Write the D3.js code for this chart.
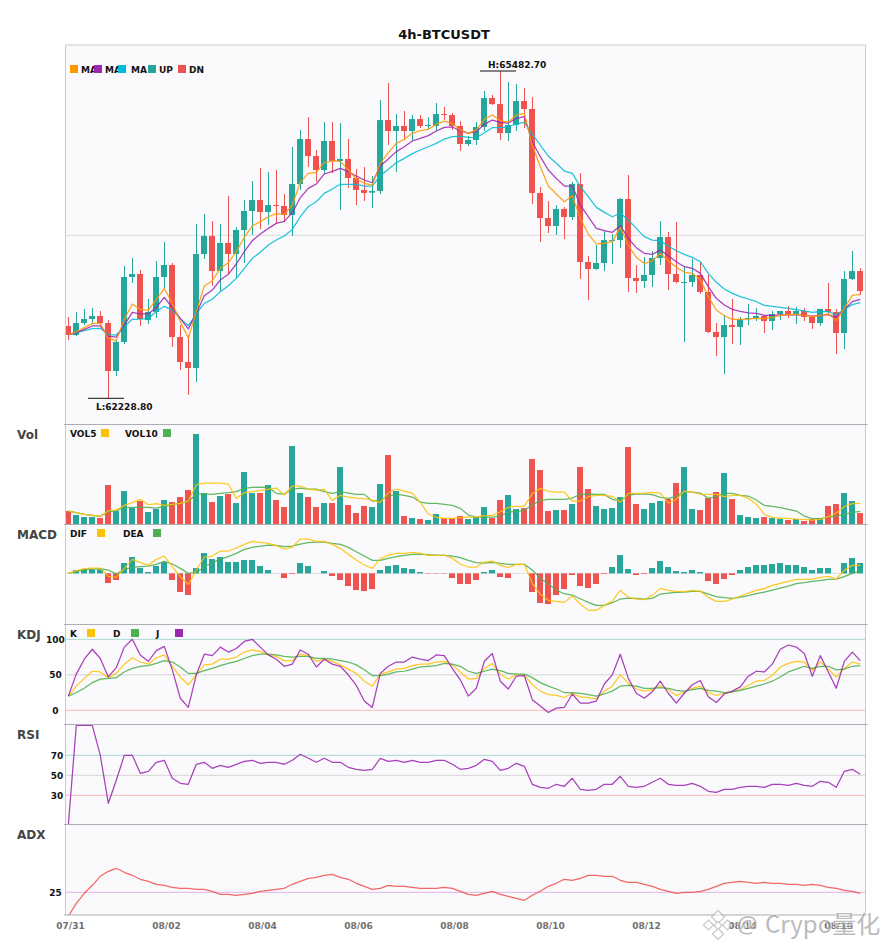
<!DOCTYPE html>
<html>
<head>
<meta charset="utf-8">
<script src="https://cdn.jsdelivr.net/npm/d3@7"></script>
<style>
  html, body { margin: 0; padding: 0; background: #fff; }
  svg { display: block; font-family: "DejaVu Sans", sans-serif; }
  text { font-weight: bold; }
</style>
</head>
<body>
<svg id="chart" width="885" height="950"></svg>
<script>
const dateLabels = ["07/31","08/02","08/04","08/06","08/08","08/10","08/12","08/14","08/16"];
const dateIndex = [0,12,24,36,48,60,72,84,96];

const opens = [62948,62858,62977,63017,63047,62977,62500,62789,63435,63465,63007,63087,63435,63554,62838,62590,62530,63663,63842,63494,
  63773,63663,63902,64091,64200,64081,64150,64140,64051,64359,64806,64637,64498,64787,64588,64608,64419,64300,64273,64290,
  64995,64886,64936,64886,65005,64936,64936,65055,65045,64936,64757,64797,64926,65214,65154,64866,64946,65184,65105,64270,
  64021,63942,64111,64031,64359,63584,63514,63574,63796,63802,64210,63425,63395,63455,63623,63832,63465,63375,63385,63455,
  63286,62888,62838,62957,62938,63017,63027,63047,62997,63067,63097,63067,63097,63037,62977,63117,63087,62878,63415,63494];
const closes = [62858,62977,63017,63047,62977,62500,62789,63435,63465,63017,63087,63435,63554,62838,62590,62530,63663,63842,63494,63773,
  63663,63902,64091,64200,64081,64150,64144,64051,64359,64806,64637,64498,64787,64588,64608,64419,64300,64270,64290,64995,
  64886,64936,64886,65005,64936,64946,65055,65045,64936,64757,64797,64926,65214,65154,64866,64946,65184,65105,64270,64021,
  63942,64111,64031,64359,63584,63514,63574,63802,63802,64210,63425,63395,63455,63623,63832,63465,63385,63385,63455,63286,
  62888,62838,62957,62938,63017,63027,63047,62997,63067,63097,63067,63097,63037,62977,63117,63087,62878,63415,63494,63295];
const highs = [63037,63087,63117,63126,63097,63007,62808,63544,63623,63504,63216,63594,63783,63574,62957,62858,63962,64061,63991,63962,
  64240,63932,64200,64389,64518,64478,64498,64260,64727,64896,65025,64697,64975,64975,64965,64806,64508,64528,64439,65194,
  65363,65055,65085,65045,65045,65025,65164,65125,65065,64985,64836,64975,65284,65244,65482.7,65373,65353,65313,65224,64329,
  64190,64150,64130,64379,64468,63643,63753,63892,63862,64220,64449,63554,63633,63693,63991,63882,63981,63534,63614,63584,
  63455,62977,63057,63216,63037,63166,63126,63057,63097,63097,63146,63136,63126,63057,63117,63375,63117,63494,63693,63524];
const lows = [62808,62848,62957,62977,62957,62228.8,62450,62769,63375,62948,62967,63027,63322,62739,62510,62262,62391,63614,63345,63286,
  63465,63421,63574,63852,63912,63952,63968,63981,63842,64300,64528,64379,64459,64468,64101,64319,64150,64190,64120,64260,
  64747,64478,64797,64787,64916,64896,64886,64995,64896,64687,64737,64747,64886,65144,64797,64787,64886,64916,64160,63783,
  63872,63852,63812,64001,63415,63206,63504,63494,63564,63723,63286,63276,63325,63335,63554,63305,63372,62789,63335,63266,
  62878,62649,62470,62769,62759,62957,62997,62878,62908,63007,63027,62967,62997,62918,62948,63057,62669,62719,63405,63256];
const ma5 = [62858,62891,62931,62974,62974,62825,62802,63014,63166,63113,63103,63213,63319,63173,62991,62825,63090,63345,63398,63521,
  63577,63686,63829,63942,63985,64034,64064,64058,64150,64376,64465,64475,64571,64588,64584,64498,64409,64366,64349,64565,
  64671,64763,64803,64863,64889,64903,64952,64985,64962,64896,64863,64896,65002,65045,64989,64975,65045,65062,64747,64531,
  64339,64260,64183,64243,64018,63862,63763,63769,63786,63928,63753,63630,63570,63594,63670,63597,63531,63481,63471,63411,
  63239,63107,63050,63014,63014,63017,63024,63021,63034,63054,63060,63064,63054,63040,63054,63067,63001,63123,63252,63262];
const ma10 = [62858,62881,62914,62948,62948,62848,62838,62957,63083,63067,63067,63133,63233,63130,63024,62918,63073,63249,63305,63405,
  63461,63564,63686,63796,63862,63918,63968,63988,64074,64223,64316,64359,64459,64485,64515,64482,64439,64399,64372,64538,
  64608,64681,64730,64787,64813,64840,64886,64922,64926,64889,64866,64879,64952,64995,64972,64965,65012,65028,64780,64631,
  64498,64415,64339,64339,64150,64034,63918,63895,63879,63945,63819,63726,63670,63660,63703,63647,63587,63537,63521,63471,
  63339,63223,63156,63113,63093,63077,63073,63054,63054,63057,63057,63057,63057,63044,63054,63060,63034,63113,63189,63213];
const ma20 = [62858,62881,62901,62921,62924,62865,62858,62941,63014,63017,63024,63090,63143,63107,63021,62951,63067,63173,63213,63289,
  63348,63421,63521,63620,63680,63753,63802,63842,63908,64034,64134,64183,64266,64309,64356,64356,64356,64339,64339,64442,
  64505,64571,64614,64661,64697,64730,64763,64806,64830,64836,64823,64820,64869,64919,64919,64926,64956,64972,64856,64747,
  64637,64565,64488,64465,64333,64233,64127,64077,64034,64071,64001,63918,63836,63802,63796,63743,63696,63660,63630,63587,
  63471,63382,63315,63272,63239,63216,63189,63153,63143,63133,63123,63110,63097,63083,63090,63090,63057,63113,63160,63179];
const midPrice = 63849;

const volume = [41,29,23,23,20,119,41,101,50,71,38,47,74,68,83,104,272,95,68,86,
  92,65,158,95,95,119,74,53,236,95,83,53,65,65,173,59,35,56,53,122,
  209,101,26,20,17,14,32,20,20,26,17,23,53,20,74,89,47,50,197,164,
  41,44,44,62,173,107,56,47,50,83,233,62,47,65,71,77,125,173,47,44,
  80,98,155,77,29,23,20,23,20,17,14,17,11,17,20,56,62,95,71,35];
const vol5 = [41,36,31,28,25,42,44,58,66,76,60,63,58,61,64,71,120,125,125,125,
  122,79,96,99,102,107,110,89,116,116,107,104,106,73,88,83,80,78,74,66,
  96,107,101,95,67,32,22,19,19,21,23,23,27,28,39,52,55,55,93,109,
  100,98,98,71,71,84,88,88,85,67,94,94,95,97,95,65,76,101,98,92,
  91,91,84,88,88,79,62,31,22,19,19,17,16,14,16,24,35,54,63,64];
const vol10 = [41,36,31,28,25,39,42,51,52,52,52,50,54,60,64,69,92,92,91,94,
  96,99,109,112,113,112,94,92,106,110,107,107,99,94,99,95,91,91,71,74,
  86,91,88,83,68,64,64,61,58,49,29,23,23,23,26,38,40,43,59,73,
  76,76,76,80,91,92,91,91,76,71,89,92,92,90,82,79,85,100,98,95,
  79,84,94,94,88,86,74,58,55,51,46,41,26,18,18,23,26,31,37,40];

const macdHist = [0,10,12,12,12,-29,-20,31,49,16,4,22,34,-20,-56,-65,16,61,43,49,
  34,34,40,40,22,10,0,-14,-2,31,22,0,7,-8,-20,-38,-50,-53,-47,10,
  22,25,16,13,4,-1,-1,-1,-14,-32,-32,-20,4,10,-11,-14,0,0,-56,-89,
  -92,-65,-47,-5,-38,-44,-32,-2,19,55,13,-5,-2,16,37,19,7,4,10,4,
  -23,-32,-17,-5,10,19,25,25,28,31,25,25,19,10,16,16,0,31,46,31];
const dif = [0,8,14,16,16,-9,-12,15,42,32,25,42,52,20,-10,-33,10,49,52,67,
  67,76,87,96,93,90,83,73,79,103,103,96,96,87,75,57,40,25,15,44,
  54,60,60,63,60,54,54,55,45,28,19,19,34,37,24,18,27,27,-30,-63,
  -81,-84,-87,-68,-92,-111,-111,-96,-83,-51,-71,-77,-79,-66,-45,-51,-54,-55,-51,-54,
  -72,-84,-84,-77,-68,-59,-51,-46,-36,-30,-24,-18,-18,-17,-12,-9,-17,9,24,24];
const dea = [0,5,11,13,14,10,-2,12,18,20,22,27,36,28,15,0,2,20,32,42,
  50,60,72,78,82,85,84,80,82,88,92,94,94,90,87,78,65,52,39,39,
  45,50,54,57,57,56,55,54,52,47,39,32,31,33,30,27,27,27,10,-15,
  -32,-50,-61,-65,-76,-87,-96,-96,-88,-77,-74,-75,-77,-75,-62,-59,-57,-56,-54,-54,
  -62,-70,-73,-75,-71,-67,-61,-56,-50,-44,-38,-31,-28,-24,-21,-18,-17,-10,0,8];

const kLine = [20,34,45,55,54,46,52,65,74,68,65,74,78,62,47,36,50,64,65,72,
  72,75,82,85,83,78,76,70,70,79,77,69,72,69,64,58,52,41,34,51,
  54,58,59,63,65,65,68,69,64,54,44,45,59,66,51,44,50,50,36,27,
  22,21,18,24,19,18,16,27,34,50,38,30,27,29,35,29,21,26,31,34,
  25,21,24,26,29,35,41,42,49,61,66,69,68,56,68,58,47,59,68,65];
const dLine = [20,25,31,39,44,45,46,54,59,62,63,66,70,68,61,52,52,56,59,63,
  66,69,73,77,79,79,78,76,75,76,76,73,73,72,70,68,64,57,49,49,
  51,54,55,58,61,62,63,66,65,62,55,52,55,58,56,52,51,51,46,39,
  34,30,25,25,24,22,20,23,27,34,35,34,31,31,32,31,28,27,29,31,
  28,27,25,26,28,31,34,37,41,47,54,58,62,59,62,62,57,58,62,63];
const jLine = [20,51,72,86,73,47,60,89,100,78,69,84,90,57,17,4,50,79,77,89,
  82,87,97,100,89,78,72,62,65,85,79,61,72,65,62,50,35,13,4,52,
  62,68,68,75,72,70,78,77,59,43,20,31,69,80,41,30,48,49,15,6,
  -3,3,4,23,10,10,13,37,50,79,45,24,17,26,41,24,10,24,36,42,
  19,11,23,27,33,48,55,54,65,86,92,89,80,48,77,54,31,69,82,70];
const kdjLevels = [100,50,0];

const rsi = [0,100,100,100,70,22,45,70,70,52,54,63,65,47,42,41,61,63,57,60,
  58,61,64,65,62,63,63,61,65,71,67,63,67,63,63,58,56,55,56,67,
  64,65,63,65,63,63,65,65,61,56,57,60,66,64,55,57,62,59,41,38,
  37,41,39,47,36,35,36,41,41,49,39,38,39,43,47,41,40,40,42,39,
  34,33,36,36,38,39,39,38,41,41,40,42,40,39,44,43,38,54,56,51];
const rsiLevels = [70,50,30];

const adx = [1,14,24,32,41,46,49,45,42,38,36,33,32,30,29,29,28,28,26,23,
  23,22,23,24,26,27,28,29,33,36,39,40,42,43,40,38,34,31,28,29,
  32,31,31,30,29,29,29,30,29,26,23,22,24,26,23,21,19,17,22,26,
  31,34,38,37,39,42,42,41,41,37,35,35,33,31,28,26,24,25,25,26,
  28,31,34,35,36,35,34,35,34,34,33,33,32,33,32,30,29,27,26,24];

const UP = "#26a69a", DOWN = "#ef5350";
const MA_COLORS = ["#ff9800", "#9c27b0", "#00bcd4"];
const YELLOW = "#ffc107", GREEN = "#4caf50", PURPLE = "#9c27b0";

const svg = d3.select("#chart");
const left = 65.5, right = 865.5;

const x = d3.scalePoint().domain(d3.range(100)).range([68, 860]);
const isUp = i => closes[i] >= opens[i];

// panels, top to bottom
const panels = [
  { name: "main", top: 45, bottom: 424.5 },
  { name: "Vol", top: 424.5, bottom: 524.5 },
  { name: "MACD", top: 524.5, bottom: 624.5 },
  { name: "KDJ", top: 624.5, bottom: 724.5 },
  { name: "RSI", top: 724.5, bottom: 824.5 },
  { name: "ADX", top: 824.5, bottom: 915 }
];

const yMain = d3.scaleLinear().domain([d3.min(lows), d3.max(highs)]).range([398.3, 71]);
const yVol = d3.scaleLinear().domain([0, 300]).range([524.7, 424.7]);
const yMacd = d3.scaleLinear().domain([-154, 146]).range([624.7, 524.7]);
const yKdj = d3.scaleLinear().domain([0, 100]).range([710.3, 639.3]);
const yRsi = d3.scaleLinear().domain([0, 100]).range([825.3, 725.3]);
const yAdx = d3.scaleLinear().domain([0, 100]).range([917.3, 817.3]);

svg.append("text")
  .attr("x", 444).attr("y", 39)
  .attr("text-anchor", "middle")
  .attr("font-size", 13)
  .attr("fill", "#111")
  .text("4h-BTCUSDT");

// backgrounds and clip paths
const defs = svg.append("defs");
panels.forEach((p, i) => {
  svg.append("rect")
    .attr("x", left).attr("y", p.top)
    .attr("width", right - left).attr("height", p.bottom - p.top)
    .attr("fill", "#fafafc");
  defs.append("clipPath").attr("id", "clip" + i).append("rect")
    .attr("x", left).attr("y", p.top)
    .attr("width", right - left).attr("height", p.bottom - p.top);
});

function panelGroup(i) {
  return svg.append("g").attr("clip-path", "url(#clip" + i + ")");
}

function drawLine(g, values, y, color, width) {
  const line = d3.line().x((d, i) => x(i) + 0.3).y(d => y(d));
  g.append("path")
    .attr("d", line(values))
    .attr("fill", "none")
    .attr("stroke", color)
    .attr("stroke-width", width || 1.25)
    .attr("stroke-opacity", 0.88)
    .attr("stroke-linejoin", "round");
}

function hLine(g, value, y, color) {
  g.append("line")
    .attr("x1", left).attr("x2", right)
    .attr("y1", y(value)).attr("y2", y(value))
    .attr("stroke", color).attr("stroke-width", 1);
}

function legend(items, textY, squareY) {
  // text first, squares on top, the reference has them overlapping
  items.forEach(d => {
    svg.append("text").attr("x", d.tx).attr("y", textY)
      .attr("font-size", 9).attr("fill", "#111").text(d.label);
  });
  items.forEach(d => {
    svg.append("rect").attr("x", d.sx).attr("y", squareY)
      .attr("width", 8).attr("height", 8).attr("fill", d.color);
  });
}

// main candles
const gMain = panelGroup(0);
hLine(gMain, midPrice, yMain, "#dddddd");

const candles = gMain.selectAll(".candle").data(d3.range(100)).enter().append("g").attr("class", "candle");
candles.append("rect")
  .attr("x", i => x(i))
  .attr("width", 1)
  .attr("y", i => yMain(highs[i]))
  .attr("height", i => yMain(lows[i]) - yMain(highs[i]))
  .attr("fill", i => isUp(i) ? UP : DOWN);
candles.append("rect")
  .attr("x", i => x(i) - 3)
  .attr("width", 6)
  .attr("y", i => yMain(Math.max(opens[i], closes[i])))
  .attr("height", i => Math.max(1, Math.abs(yMain(opens[i]) - yMain(closes[i]))))
  .attr("fill", i => isUp(i) ? UP : DOWN);

drawLine(gMain, ma20, yMain, MA_COLORS[2]);
drawLine(gMain, ma10, yMain, MA_COLORS[1]);
drawLine(gMain, ma5, yMain, MA_COLORS[0]);

// high / low markers
function extremeMark(value, prefix, textY) {
  const i = (prefix == "H" ? highs : lows).indexOf(value);
  const px = x(i);
  svg.append("line")
    .attr("x1", px - 20).attr("x2", px + 16)
    .attr("y1", yMain(value)).attr("y2", yMain(value))
    .attr("stroke", "#111").attr("stroke-width", 1);
  svg.append("text")
    .attr("x", px - 12).attr("y", textY)
    .attr("font-size", 9).attr("fill", "#111")
    .text(prefix + ":" + value.toFixed(2));
}
extremeMark(d3.max(highs), "H", 68);
extremeMark(d3.min(lows), "L", 410);

legend([
  { label: "MA", tx: 81, sx: 70, color: MA_COLORS[0] },
  { label: "MA", tx: 105, sx: 94, color: MA_COLORS[1] },
  { label: "MA", tx: 131, sx: 118, color: MA_COLORS[2] },
  { label: "UP", tx: 159, sx: 148, color: UP },
  { label: "DN", tx: 189, sx: 178, color: DOWN }
], 72.5, 65);

// volume
const gVol = panelGroup(1);
gVol.selectAll("rect").data(volume).enter().append("rect")
  .attr("x", (d, i) => x(i) - 3)
  .attr("width", 6)
  .attr("y", d => yVol(d))
  .attr("height", d => yVol(0) - yVol(d))
  .attr("fill", (d, i) => isUp(i) ? UP : DOWN);
drawLine(gVol, vol10, yVol, GREEN);
drawLine(gVol, vol5, yVol, YELLOW);
legend([
  { label: "VOL5", tx: 70, sx: 101, color: YELLOW },
  { label: "VOL10", tx: 125, sx: 163, color: GREEN }
], 437, 429);

// macd
const gMacd = panelGroup(2);
hLine(gMacd, 0, yMacd, "#dddddd");
gMacd.selectAll(".hist").data(macdHist).enter().append("rect")
  .attr("class", "hist")
  .attr("x", (d, i) => x(i) - 3)
  .attr("width", 6)
  .attr("y", d => Math.min(yMacd(d), yMacd(0)))
  .attr("height", d => Math.abs(yMacd(d) - yMacd(0)))
  .attr("fill", d => d >= 0 ? UP : DOWN);
drawLine(gMacd, dea, yMacd, GREEN);
drawLine(gMacd, dif, yMacd, YELLOW);
legend([
  { label: "DIF", tx: 70, sx: 97, color: YELLOW },
  { label: "DEA", tx: 123, sx: 153, color: GREEN }
], 537, 529);

// kdj
const gKdj = panelGroup(3);
const levelColors = ["#a5d9d3", "#d5d5d5", "#ffb8b8"];
kdjLevels.forEach((v, i) => hLine(gKdj, v, yKdj, levelColors[i]));
drawLine(gKdj, kLine, yKdj, YELLOW);
drawLine(gKdj, dLine, yKdj, GREEN);
drawLine(gKdj, jLine, yKdj, PURPLE);
legend([
  { label: "K", tx: 70, sx: 87, color: YELLOW },
  { label: "D", tx: 113, sx: 131, color: GREEN },
  { label: "J", tx: 156, sx: 175, color: PURPLE }
], 637, 629);

// rsi
const gRsi = panelGroup(4);
rsiLevels.forEach((v, i) => hLine(gRsi, v, yRsi, levelColors[i]));
drawLine(gRsi, rsi, yRsi, PURPLE);

// adx
const gAdx = panelGroup(5);
hLine(gAdx, 25, yAdx, "#e0b4e8");
drawLine(gAdx, adx, yAdx, DOWN);

// borders, separators drawn after the marks
svg.append("path")
  .attr("d", "M" + left + ",915V45H" + right + "V915")
  .attr("fill", "none").attr("stroke", "#c9c9d3").attr("stroke-width", 1);
panels.forEach(p => {
  svg.append("line")
    .attr("x1", 64).attr("x2", right + 2)
    .attr("y1", p.bottom).attr("y2", p.bottom)
    .attr("stroke", "#adadb3").attr("stroke-width", 1);
});

// panel names
panels.slice(1).forEach(p => {
  svg.append("text")
    .attr("x", 17).attr("y", p.top + 14.5)
    .attr("font-size", 12).attr("fill", "#444")
    .text(p.name);
});

// y ticks on the indicator panes
function yTicks(y, values, cx) {
  const g = svg.append("g").call(d3.axisLeft(y).tickValues(values).tickSize(0).tickFormat(d3.format("d")));
  g.select(".domain").remove();
  g.selectAll("text")
    .attr("x", cx).attr("text-anchor", "middle")
    .attr("font-size", 9).attr("fill", "#111")
    .attr("font-family", "DejaVu Sans");
}
yTicks(yKdj, kdjLevels, 55.5);
yTicks(yRsi, rsiLevels, 57);
yTicks(yAdx, [25], 55.5);

// date axis
const xAxis = d3.axisBottom(x)
  .tickValues(dateIndex)
  .tickSize(0)
  .tickFormat((d, i) => dateLabels[i]);
const gx = svg.append("g").attr("transform", "translate(2,915)").call(xAxis);
gx.select(".domain").remove();
gx.selectAll("text")
  .attr("y", 7.5).attr("dy", "0.71em")
  .attr("font-size", 9).attr("fill", "#707070")
  .attr("font-family", "DejaVu Sans");

// watermark
const wm = svg.append("g").attr("opacity", 0.6);
[[718, 917, 6.5], [708.5, 925, 5], [727.5, 925, 5], [718, 925.5, 4], [718, 934, 5.5]].forEach(d => {
  wm.append("path")
    .attr("d", "M" + d[0] + "," + (d[1] - d[2]) + "L" + (d[0] + d[2]) + "," + d[1] +
               "L" + d[0] + "," + (d[1] + d[2]) + "L" + (d[0] - d[2]) + "," + d[1] + "Z")
    .attr("fill", "#fff").attr("stroke", "#a5a5a5").attr("stroke-width", 1.2);
});
wm.append("text")
  .attr("x", 737).attr("y", 933)
  .attr("font-size", 23)
  .attr("font-family", "'Noto Sans', sans-serif")
  .style("font-weight", "normal")
  .attr("fill", "#8e8e8e")
  .attr("stroke", "#fff").attr("stroke-width", 2).attr("paint-order", "stroke")
  .text("@");
wm.append("text")
  .attr("x", 765).attr("y", 933)
  .attr("font-size", 24)
  .attr("font-family", "'Noto Sans CJK SC', sans-serif")
  .style("font-weight", "normal")
  .attr("fill", "#8e8e8e")
  .attr("stroke", "#fff").attr("stroke-width", 2).attr("paint-order", "stroke")
  .text("Crypo量化");
</script>
</body>
</html>
